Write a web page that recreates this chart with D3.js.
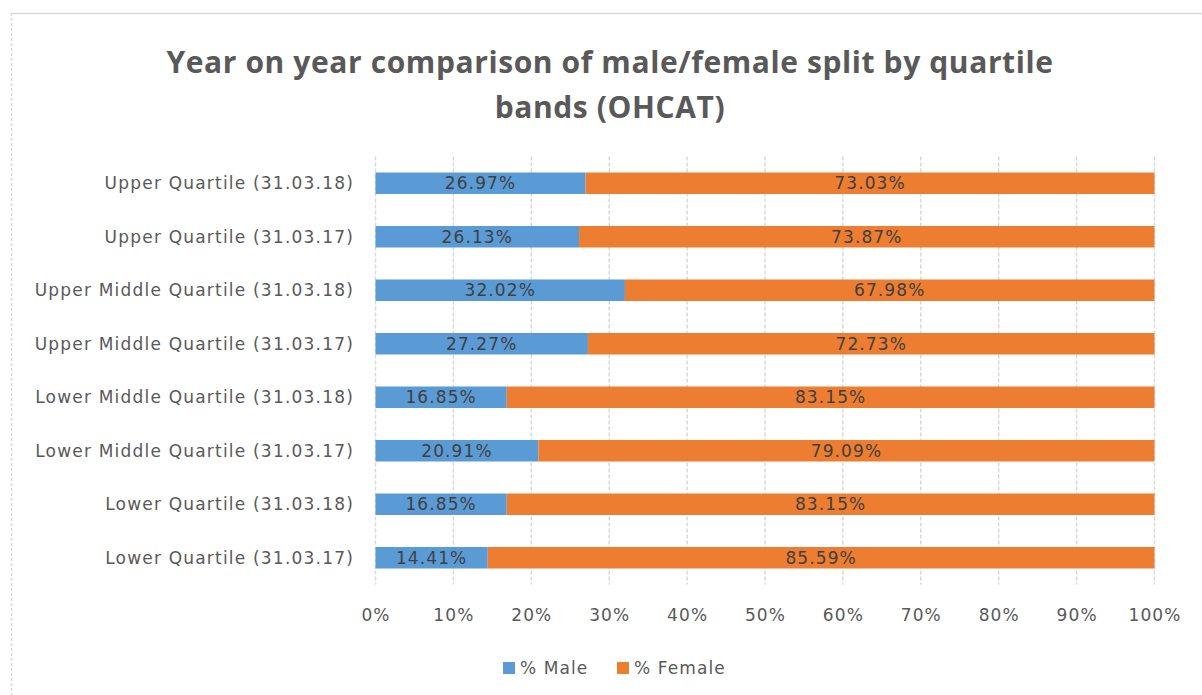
<!DOCTYPE html>
<html>
<head>
<meta charset="utf-8">
<script src="https://cdn.jsdelivr.net/npm/d3@7"></script>
<style>
  body { margin: 0; background: #fff; }
  text { font-family: "DejaVu Sans", sans-serif; }
</style>
</head>
<body>
<div id="chart"></div>
<script>

// chart data
var categories = [
  'Upper Quartile (31.03.18)',
  'Upper Quartile (31.03.17)',
  'Upper Middle Quartile (31.03.18)',
  'Upper Middle Quartile (31.03.17)',
  'Lower Middle Quartile (31.03.18)',
  'Lower Middle Quartile (31.03.17)',
  'Lower Quartile (31.03.18)',
  'Lower Quartile (31.03.17)'
];
var male   = [26.97, 26.13, 32.02, 27.27, 16.85, 20.91, 16.85, 14.41];
var female = [73.03, 73.87, 67.98, 72.73, 83.15, 79.09, 83.15, 85.59];
var seriesNames = ['% Male', '% Female'];
var xTicks = [0, 10, 20, 30, 40, 50, 60, 70, 80, 90, 100];
var titleLines = ['Year on year comparison of male/female split by quartile', 'bands (OHCAT)'];

var width = 1202,
    height = 695;

var colors = ['#5b9bd5', '#ed7d31'];

var svg = d3.select('#chart')
  .append('svg')
  .attr('width', width)
  .attr('height', height);

// chart frame (top + left edges visible)
svg.append('line')
  .attr('x1', 11).attr('x2', width).attr('y1', 13.5).attr('y2', 13.5)
  .style('stroke', '#d9d9d9').style('stroke-width', 1.5);
svg.append('line')
  .attr('x1', 11.5).attr('x2', 11.5).attr('y1', 13).attr('y2', height)
  .style('stroke', '#d9d9d9').style('stroke-width', 1.5)
  .style('stroke-dasharray', '3,2');

// title
svg.append('g').selectAll('text')
  .data(titleLines)
  .enter()
  .append('text')
  .attr('x', 610)
  .attr('y', function(d, i) { return 73 + i * 45; })
  .attr('text-anchor', 'middle')
  .style('font-family', '"Open Sans", sans-serif')
  .style('font-size', '30px')
  .style('font-weight', 'bold')
  .style('letter-spacing', '0.6px')
  .style('fill', '#595959')
  .text(function(d) { return d; });

var margin = {left: 375.5, right: 47.5, top: 156.5, bottom: 110.5};

var x = d3.scaleLinear()
  .domain([0, 100])
  .range([margin.left, width - margin.right]);

var y = d3.scaleBand()
  .domain(categories)
  .range([margin.top, height - margin.bottom])
  .paddingInner(0.598)
  .paddingOuter(0.299);

// gridlines
svg.append('g').selectAll('line')
  .data(xTicks)
  .enter()
  .append('line')
  .attr('x1', function(d) { return x(d); })
  .attr('x2', function(d) { return x(d); })
  .attr('y1', margin.top)
  .attr('y2', height - margin.bottom)
  .style('stroke', '#d9d9d9')
  .style('stroke-width', 1.5)
  .style('stroke-dasharray', '4,2');

// stacked bars
var rows = categories.map(function(c, i) {
  return {cat: c, segs: [
    {x0: 0, x1: male[i], v: male[i], s: 0},
    {x0: male[i], x1: male[i] + female[i], v: female[i], s: 1}
  ]};
});

var rowG = svg.append('g').selectAll('g')
  .data(rows)
  .enter()
  .append('g');

rowG.selectAll('rect')
  .data(function(d) { return d.segs.map(function(s) { s.cat = d.cat; return s; }); })
  .enter()
  .append('rect')
  .attr('x', function(d) { return x(d.x0); })
  .attr('width', function(d) { return x(d.x1) - x(d.x0); })
  .attr('y', function(d) { return y(d.cat); })
  .attr('height', y.bandwidth())
  .style('fill', function(d) { return colors[d.s]; });

// data labels
rowG.selectAll('text')
  .data(function(d) { return d.segs; })
  .enter()
  .append('text')
  .attr('x', function(d) { return x((d.x0 + d.x1) / 2); })
  .attr('y', function(d) { return y(d.cat) + y.bandwidth() / 2; })
  .attr('dy', '0.36em')
  .attr('text-anchor', 'middle')
  .style('font-size', '17px')
  .style('letter-spacing', '1.1px')
  .style('fill', '#404040')
  .text(function(d) { return d.v.toFixed(2) + '%'; });

// category axis labels
svg.append('g').selectAll('text')
  .data(categories)
  .enter()
  .append('text')
  .attr('x', 354)
  .attr('y', function(d) { return y(d) + y.bandwidth() / 2; })
  .attr('dy', '0.36em')
  .attr('text-anchor', 'end')
  .style('font-size', '17px')
  .style('letter-spacing', '1.2px')
  .style('fill', '#595959')
  .text(function(d) { return d; });

// x axis
var xAxis = svg.append('g')
  .attr('transform', 'translate(0,' + (height - margin.bottom) + ')')
  .call(d3.axisBottom(x).tickValues(xTicks).tickSize(0).tickPadding(24)
    .tickFormat(function(d) { return d + '%'; }));
xAxis.select('.domain').remove();
xAxis.selectAll('text')
  .style('font-family', '"DejaVu Sans", sans-serif')
  .style('font-size', '17px')
  .style('letter-spacing', '1.1px')
  .style('fill', '#595959');

// legend
var legend = svg.append('g').selectAll('g')
  .data(seriesNames)
  .enter()
  .append('g')
  .attr('transform', function(d, i) { return 'translate(' + (503 + i * 114) + ',0)'; });

legend.append('rect')
  .attr('x', 0).attr('y', 662).attr('width', 12).attr('height', 12)
  .style('fill', function(d, i) { return colors[i]; });

legend.append('text')
  .attr('x', 17)
  .attr('y', 668)
  .attr('dy', '0.36em')
  .style('font-size', '17px')
  .style('letter-spacing', '1.1px')
  .style('fill', '#595959')
  .text(function(d) { return d; });

</script>
</body>
</html>
